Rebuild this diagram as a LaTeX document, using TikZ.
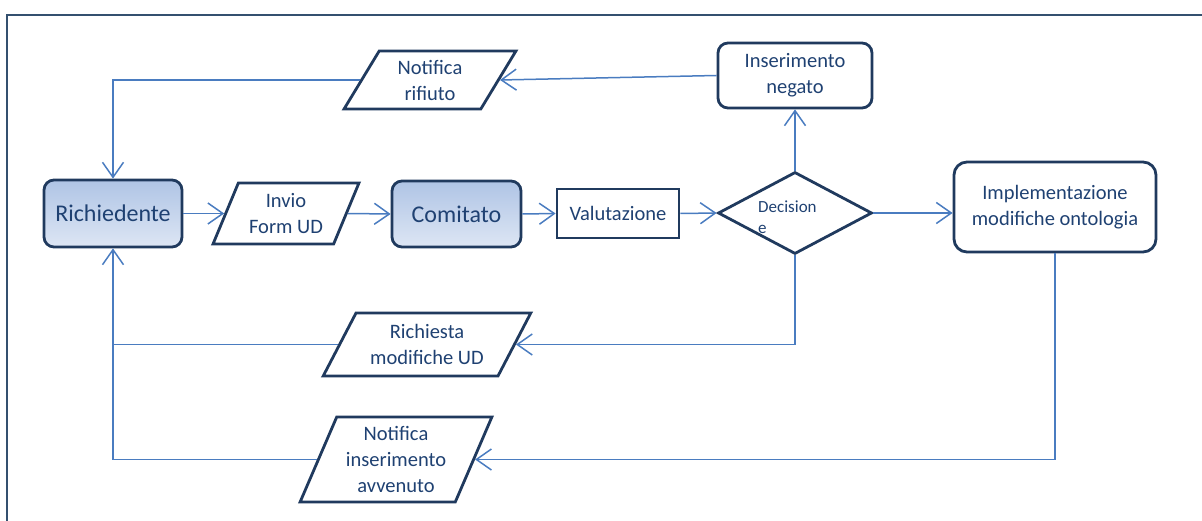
\documentclass[tikz,border=0pt]{standalone}
\usepackage{fontspec}
\setmainfont{Carlito}
\usetikzlibrary{shapes.geometric,arrows.meta}
\definecolor{navy}{HTML}{203A5E}
\definecolor{txt}{HTML}{1F4172}
\definecolor{conn}{HTML}{4A7CC0}
\definecolor{gtop}{HTML}{AFC4E5}
\definecolor{gbot}{HTML}{DDE6F4}
\definecolor{frame}{HTML}{34506F}
\tikzset{
  base/.style={draw=navy, line width=2.8pt, text=txt, align=center, inner sep=0pt,
    font=\fontsize{20.5}{26}\selectfont},
  rbox/.style={base, rectangle, rounded corners=10pt},
  filled/.style={rbox, top color=gtop, bottom color=gbot, font=\fontsize{24}{28}\selectfont},
  plainbox/.style={base, rectangle},
  para/.style={base, trapezium, trapezium stretches=true, fill=white},
  decbox/.style={base, diamond, minimum width=154pt, minimum height=82pt, aspect=1.88},
  conn/.style={draw=conn, line width=1.5pt,
    -{Straight Barb[length=15pt,width=21pt,line width=1.5pt]}},
  connplain/.style={draw=conn, line width=1.5pt}
}
\begin{document}
\begin{tikzpicture}[x=1pt,y=-1pt]
\useasboundingbox (0,0) rectangle (1202,521);
\draw[frame, line width=1.8pt] (7,521) -- (7,15) -- (1202,15);

\node[filled, minimum width=138pt, minimum height=67pt] (rich) at (113,213.5) {Richiedente};
\node[para, trapezium left angle=64, trapezium right angle=116,
      minimum width=146pt, minimum height=61pt] (invio) at (286,213.5) {Invio\\Form UD};
\node[filled, minimum width=129pt, minimum height=66pt] (com) at (456.5,214) {Comitato};
\node[plainbox, minimum width=122pt, minimum height=49pt] (val) at (618,213.5) {Valutazione};
\node[decbox] (dec) at (795,213) {};
\node[text=txt, align=left, inner sep=0pt, font=\fontsize{17}{21}\selectfont,
      anchor=north west] (dtext) at (758,201) {Decision\\e};
\node[rbox, minimum width=154pt, minimum height=65pt] (neg) at (795,75.5) {Inserimento\\negato};
\node[rbox, rounded corners=13pt, minimum width=202pt, minimum height=90pt] (impl) at (1055,207)
  {Implementazione\\modifiche ontologia};
\node[para, trapezium left angle=61, trapezium right angle=119,
      minimum width=172pt, minimum height=58pt] (rif) at (430,80) {Notifica\\rifiuto};
\node[para, trapezium left angle=57, trapezium right angle=123,
      minimum width=208pt, minimum height=63pt] (ric) at (427,344.5) {Richiesta\\modifiche UD};
\node[para, trapezium left angle=65, trapezium right angle=115,
      minimum width=192pt, minimum height=85pt] (nins) at (396,459.5) {Notifica\\inserimento\\avvenuto};

\draw[conn] (rich.east) -- (invio.left side);
\draw[conn] (invio.right side) -- (com.west);
\draw[conn] (com.east) -- (val.west);
\draw[conn] (val.east) -- (dec.west);
\draw[conn] (dec.east) -- (dec.east -| impl.west);
\draw[conn] (dec.north) -- (neg.south);
\draw[conn] (neg.west) -- (rif.right side);
\draw[conn] (rif.left side) -| (rich.north);
\draw[conn] (dec.south) |- (ric.right side);
\draw[conn] (ric.left side) -| (rich.south);
\draw[conn] (impl.south) |- (nins.right side);
\draw[connplain] (nins.left side) -| (ric.left side -| rich.south);
\end{tikzpicture}
\end{document}
